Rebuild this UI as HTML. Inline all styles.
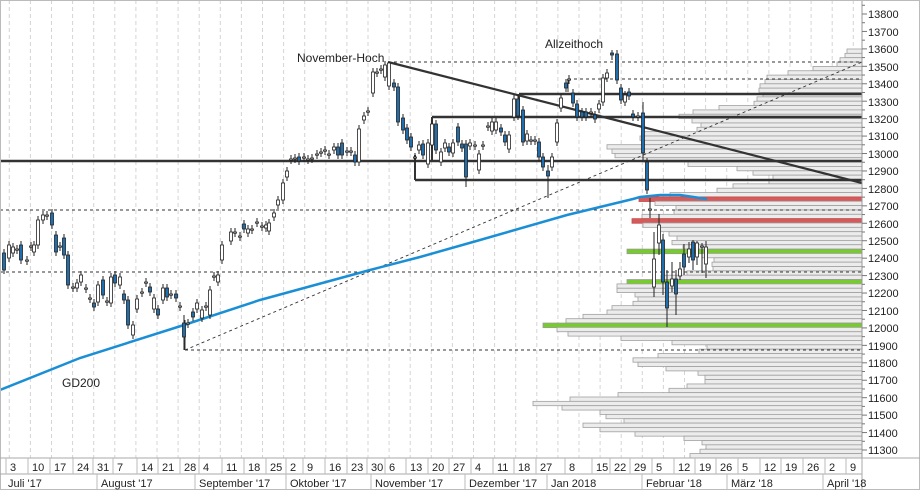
<!DOCTYPE html>
<html><head><meta charset="utf-8"><style>
html,body{margin:0;padding:0;background:#fff}
svg{display:block;font-family:"Liberation Sans",sans-serif}
</style></head><body>
<svg id="s" width="920" height="490" viewBox="0 0 920 490" xmlns="http://www.w3.org/2000/svg">
<rect x="0" y="0" width="920" height="490" fill="#fff"/>
<g id="grid"></g>
<g id="prof"></g>
<g id="lines"></g>
<g id="candles"></g>
<g id="axis"></g>
<text x="297" y="62" font-size="12" fill="#222">November-Hoch</text>
<text x="545" y="48" font-size="12" fill="#222">Allzeithoch</text>
<text x="62" y="387" font-size="12" fill="#222">GD200</text>
<g font-size="11" fill="#222" id="dates">
<text x="10" y="471">3</text><text x="32" y="471">10</text><text x="54" y="471">17</text><text x="77" y="471">24</text><text x="97" y="471">31</text><text x="117" y="471">7</text><text x="141" y="471">14</text><text x="162" y="471">21</text><text x="184" y="471">28</text><text x="203" y="471">4</text><text x="226" y="471">11</text><text x="248" y="471">18</text><text x="270" y="471">25</text><text x="290" y="471">2</text><text x="307" y="471">9</text><text x="329" y="471">16</text><text x="351" y="471">23</text><text x="371" y="471">30</text><text x="389" y="471">6</text><text x="410" y="471">13</text><text x="432" y="471">20</text><text x="453" y="471">27</text><text x="475" y="471">4</text><text x="497" y="471">11</text><text x="518" y="471">18</text><text x="540" y="471">27</text><text x="569" y="471">8</text><text x="596" y="471">15</text><text x="614" y="471">22</text><text x="634" y="471">29</text><text x="656" y="471">5</text><text x="678" y="471">12</text><text x="699" y="471">19</text><text x="720" y="471">26</text><text x="742" y="471">5</text><text x="764" y="471">12</text><text x="785" y="471">19</text><text x="807" y="471">26</text><text x="829" y="471">2</text><text x="850" y="471">9</text>
<text x="8" y="487">Juli '17</text><text x="101" y="487">August '17</text><text x="199" y="487">September '17</text><text x="290" y="487">Oktober '17</text><text x="375" y="487">November '17</text><text x="469" y="487">Dezember '17</text><text x="551" y="487">Jan 2018</text><text x="646" y="487">Februar '18</text><text x="731" y="487">März '18</text><text x="827" y="487">April '18</text>
</g>
<g font-size="11" fill="#222" id="plabels">
<text x="868" y="18">13800</text><text x="868" y="36">13700</text><text x="868" y="53">13600</text><text x="868" y="71">13500</text><text x="868" y="88">13400</text><text x="868" y="106">13300</text><text x="868" y="123">13200</text><text x="868" y="140">13100</text><text x="868" y="158">13000</text><text x="868" y="175">12900</text><text x="868" y="193">12800</text><text x="868" y="210">12700</text><text x="868" y="228">12600</text><text x="868" y="245">12500</text><text x="868" y="262">12400</text><text x="868" y="280">12300</text><text x="868" y="297">12200</text><text x="868" y="315">12100</text><text x="868" y="332">12000</text><text x="868" y="350">11900</text><text x="868" y="367">11800</text><text x="868" y="384">11700</text><text x="868" y="402">11600</text><text x="868" y="419">11500</text><text x="868" y="437">11400</text><text x="868" y="454">11300</text>
</g>
</svg>
<script>
(function(){
var NS="http://www.w3.org/2000/svg";
function el(p,t,a){var e=document.createElementNS(NS,t);for(var k in a)e.setAttribute(k,a[k]);document.getElementById(p).appendChild(e);return e;}
function Y(p){return 14+(13800-p)*0.1744;}
for(var gx=9.3;gx<862;gx+=21.1){el("grid","line",{x1:gx,y1:0,x2:gx,y2:458,stroke:"#d4d4d4","stroke-dasharray":"4,3","stroke-width":1});}
var U=[847,845,840,837,813,788,767,765,760,759,763,757,754,719,693,679,692,701,697,643,640,642,607,612,615,643,688,737,753,773,769,733,717,670,639,655,676,674,642,632,643,658,669,677,672,683,627,702,714,712,713,687,661,627,617,617,635,638,633,612,607,583,566,543,557,568,621,672,707,699,658,633,638,666,698,705,705,687,669,618,570,533,562,600,606,624,583,600,635,684,702,706,700,690];
var red={34:1,39:1},green={46:1,53:1,63:1};
for(var i=0;i<U.length;i++){var yb=49+i*4.35;if(yb>456)break;
 if(red[i])el("prof","rect",{x:U[i],y:yb,width:862-U[i],height:4.6,fill:"#d65a5a",stroke:"#c24c4c","stroke-width":0.8});
 else if(green[i])el("prof","rect",{x:U[i],y:yb,width:862-U[i],height:4.6,fill:"#76cc2a",stroke:"#9a9a9a","stroke-width":0.8});
 else el("prof","rect",{x:U[i],y:yb,width:862-U[i],height:4.35,fill:"#ececec",stroke:"#a0a0a0","stroke-width":0.8});}
function L(x1,y1,x2,y2,w,c,d){var a={x1:x1,y1:y1,x2:x2,y2:y2,stroke:c||"#333","stroke-width":w};if(d)a["stroke-dasharray"]=d;el("lines","line",a);}
L(0,161,862,161,2.5);
L(415,180,862,180,2.5);L(415,155,415,180,2);
L(519,94,862,94,2.5);L(519,94,519,117,2);
L(432,117,862,117,2.5);L(432,117,432,160,2);
L(388,62,862,62,1,"#333","3,3");
L(568,79,862,79,1,"#333","3,3");L(568,79,568,92,1);
L(0,210,862,210,1,"#333","3,3");
L(0,272,862,272,1,"#333","3,3");
L(185,350,862,350,1,"#333","3,3");L(185,320,185,350,1);
L(185,350,862,62,0.9,"#333","3,3");
L(388,62,862,183,2.2,"#333");
el("lines","polyline",{points:"0,390 80,358 184,325 260,300 370,270 420,257 480,240 567,215 633,199 640,197 660,195 680,195 707,199",fill:"none",stroke:"#1a8fd6","stroke-width":2.5});
var C=[[4,253,270],[9,258,245],[13,253,247],[17,250,249],[21,245,260],[27,261,260],[31,247,246],[34,252,245],[38,245,220],[43,220,215],[47,216,215],[52,213,225],[56,235,252],[60,247,246],[64,238,255],[68,255,285],[73,288,287],[77,288,283],[81,282,275],[86,289,288],[90,299,298],[94,303,307],[98,302,285],[103,280,295],[107,302,301],[111,303,277],[115,275,283],[120,285,277],[124,294,300],[128,300,325],[133,335,325],[137,309,299],[142,293,292],[146,283,282],[150,287,292],[154,309,298],[158,309,315],[163,300,288],[167,288,297],[171,295,294],[176,294,298],[180,307,306],[184,323,337,315,350],[188,324,323],[193,312,317],[197,309,303],[202,318,310],[206,307,306],[210,315,290],[214,277,276],[218,282,275],[222,260,245],[231,241,232],[235,233,232],[240,237,236],[244,224,229],[248,233,229],[252,230,229],[257,223,222],[262,227,226],[266,228,225],[269,231,223],[274,217,213],[278,205,200],[283,200,183],[287,177,171],[291,160,159],[295,159,158],[299,157,161],[304,158,157],[308,160,159],[312,159,158],[317,155,154],[321,153,152],[325,151,150],[329,155,154],[334,150,147],[338,147,155],[342,143,155],[347,152,151],[351,152,151],[355,155,162],[359,162,129],[364,120,116],[368,112,111],[373,93,72],[377,73,72],[381,70,69],[385,77,65],[389,86,63,62,90],[394,83,87],[398,87,122],[403,118,130],[407,128,140],[411,137,147],[415,158,157],[419,150,145],[423,144,155],[428,164,143],[432,145,124],[436,124,150],[441,162,152],[445,148,143],[449,147,152],[453,153,143],[458,127,142],[462,144,148],[466,144,177,140,187],[470,146,143],[475,146,145],[479,170,154],[483,146,145],[488,127,126],[492,131,122],[496,130,122],[501,128,132],[505,135,142],[509,149,135],[514,117,99],[518,99,116],[523,110,142],[527,141,134],[531,141,140],[535,141,140],[539,142,157],[543,157,167],[548,171,176,165,198],[552,167,157],[557,142,123],[561,108,98],[566,83,88],[569,80,79],[573,93,103],[577,104,117],[582,112,117],[586,112,117],[591,113,112],[595,115,119],[599,109,104],[603,102,78],[607,78,73],[612,53,55,50,60],[617,54,80],[621,88,100],[625,102,95],[629,92,96],[633,114,117],[638,117,116],[643,113,153,102,160],[647,162,190],[650,210,209,198,218],[654,287,259,232,297],[659,243,225,214,255],[663,240,282,234,295],[667,282,308,270,327],[672,286,279,262,292],[676,279,294,270,315],[680,276,269,262,280],[684,254,267,244,275],[689,257,249,242,263],[693,242,260,240,270],[697,257,243,241,265],[702,247,246,243,273],[706,264,247,241,278]];
for(var j=0;j<C.length;j++){var c=C[j],x=c[0],o=c[1],cl=c[2];var bt=Math.min(o,cl),bb=Math.max(o,cl);
 var hi=c.length>3?c[3]:bt-4,lo=c.length>4?c[4]:bb+4;
 el("candles","line",{x1:x,y1:hi,x2:x,y2:lo,stroke:"#222","stroke-width":1});
 var down=cl>o+0.5;var bh=Math.max(bb-bt,1.2);
 el("candles","rect",{x:x-1.5,y:bt,width:3,height:bh,fill:down?"#1f6fb0":"#fff",stroke:"#222","stroke-width":0.8});}
el("axis","line",{x1:862,y1:0,x2:862,y2:458,stroke:"#999","stroke-width":1});
for(var p=11250;p<=13850;p+=50){var yy=Y(p);if(yy<2||yy>456)continue;el("axis","line",{x1:862,y1:yy,x2:p%100==0?867:865,y2:yy,stroke:"#777","stroke-width":1});}
el("axis","rect",{x:0.5,y:0.5,width:919,height:489,fill:"none",stroke:"#bbb"});
el("axis","line",{x1:0,y1:458,x2:920,y2:458,stroke:"#aaa"});
el("axis","line",{x1:0,y1:474,x2:862,y2:474,stroke:"#aaa"});
var ds=[10,32,54,77,97,117,141,162,184,203,226,248,270,290,307,329,351,371,389,410,432,453,475,497,518,540,569,596,614,634,656,678,699,720,742,764,785,807,829,850];
ds.forEach(function(d){el("axis","line",{x1:d-4,y1:458,x2:d-4,y2:474,stroke:"#bbb"});});
[97,195,286,371,465,547,642,727,823].forEach(function(d){el("axis","line",{x1:d,y1:474,x2:d,y2:490,stroke:"#bbb"});});
el("axis","line",{x1:862,y1:458,x2:862,y2:490,stroke:"#aaa"});
})();
</script>
</body></html>
